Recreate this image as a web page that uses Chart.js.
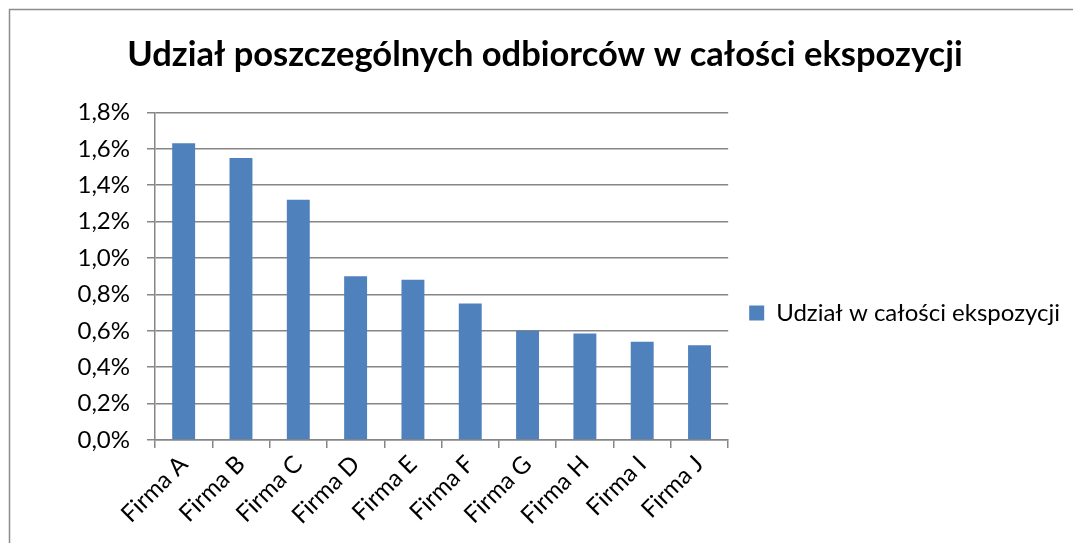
<!DOCTYPE html>
<html>
<head>
<meta charset="utf-8">
<script src="https://cdn.jsdelivr.net/npm/chart.js@4/dist/chart.umd.min.js"></script>
<style>
html,body{margin:0;padding:0;background:#fff;}
#c{display:block;}
</style>
</head>
<body>
<canvas id="c" width="1073" height="543"></canvas>
<script>
const chartTitle = "Udział poszczególnych odbiorców w całości ekspozycji";
const seriesName = "Udział w całości ekspozycji";
const categories = ["Firma A","Firma B","Firma C","Firma D","Firma E","Firma F","Firma G","Firma H","Firma I","Firma J"];
const shares = [1.63, 1.55, 1.32, 0.90, 0.88, 0.75, 0.60, 0.585, 0.54, 0.52];
const yMin = 0, yMax = 1.8, yStep = 0.2;

const frame = {
  id: 'frame',
  beforeDraw(chart) {
    const ctx = chart.ctx;
    ctx.save();
    ctx.fillStyle = '#fff';
    ctx.fillRect(0, 0, chart.width, chart.height);
    ctx.strokeStyle = '#8c8c8c';
    ctx.lineWidth = 1.5;
    ctx.strokeRect(9.5, 9.5, chart.width + 20, chart.height + 20);
    ctx.restore();
  }
};

const FONT = 'Lato, "Open Sans", sans-serif';
new Chart(document.getElementById('c'), {
  type: 'bar',
  data: {
    labels: categories,
    datasets: [{
      label: seriesName,
      data: shares,
      backgroundColor: '#4f81bd',
      borderColor: '#4f81bd',
      borderWidth: 0,
      barPercentage: 0.4,
      categoryPercentage: 1.0
    }]
  },
  options: {
    responsive: false,
    animation: false,
    devicePixelRatio: 1,
    layout: { padding: { left: 20, right: 3, top: 14, bottom: 0 } },
    plugins: {
      title: {
        display: true,
        text: chartTitle,
        color: '#000',
        font: { family: FONT, size: 34.5, weight: 'bold' },
        padding: { top: 20, bottom: 37 }
      },
      legend: {
        position: 'right',
        maxWidth: 500,
        title: { display: true, text: ' ', font: { size: 1 }, padding: 34 },
        labels: {
          color: '#000',
          font: { family: FONT, size: 24 },
          boxWidth: 15,
          boxHeight: 15,
          padding: 21
        }
      },
      tooltip: { enabled: false }
    },
    scales: {
      x: {
        offset: true,
        grid: { display: true, drawOnChartArea: false, offset: true, color: '#868686', lineWidth: 1.5, tickLength: 8 },
        border: { display: true, color: '#868686', width: 1.5 },
        ticks: {
          color: '#000',
          font: { family: FONT, size: 24 },
          minRotation: 45, maxRotation: 45,
          padding: 2
        },
        afterFit(s) { s.height = 103; }
      },
      y: {
        min: yMin, max: yMax,
        grid: { color: '#868686', lineWidth: 1.5, tickLength: 8 },
        border: { display: true, color: '#868686', width: 1.5 },
        ticks: {
          stepSize: yStep,
          color: '#000',
          font: { family: FONT, size: 24 },
          padding: 17,
          callback: v => v.toFixed(1).replace('.', ',') + '%'
        },
        afterFit(s) { s.width = 135; }
      }
    }
  },
  plugins: [frame]
});
</script>
</body>
</html>
